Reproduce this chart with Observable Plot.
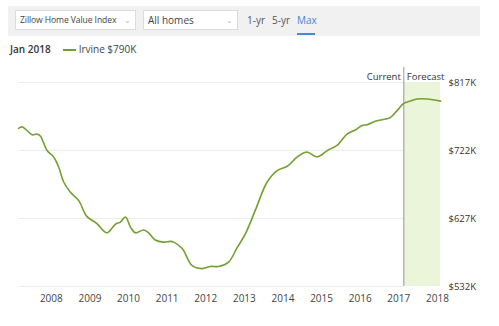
<!DOCTYPE html>
<html>
<head>
<meta charset="utf-8">
<script src="https://cdn.jsdelivr.net/npm/d3@7"></script>
<script src="https://cdn.jsdelivr.net/npm/@observablehq/plot@0.6"></script>
<style>
  html, body { margin: 0; padding: 0; background: #fff; }
  body { width: 499px; height: 326px; position: relative; overflow: hidden; font-family: "Open Sans", sans-serif; color: #444; }
  .bar { position: absolute; left: 8px; top: 6px; width: 472px; height: 30px; background: #f1f1f1; }
  .dd { position: absolute; top: 10px; height: 20px; background: #fff; border: 1px solid #dcdcdc; font-size: 10px; line-height: 19px; color: #444; box-sizing: border-box; }
  .dd .txt { position: absolute; left: 4px; top: 0; white-space: nowrap; }
  .dd .chev { position: absolute; right: 4px; top: -1px; color: #bbb; font-size: 8px; }
  .tab { position: absolute; top: 13px; font-size: 10px; color: #555; }
  .tab.on { color: #4a86d8; }
  .uline { position: absolute; left: 297px; top: 33px; width: 18px; height: 2px; background: #4a86d8; }
  .legend { position: absolute; top: 42px; left: 10px; font-size: 10px; line-height: 14px; white-space: nowrap; }
  .legend b { font-weight: 600; color: #333; }
  .legend .sw { display: inline-block; width: 13px; height: 2px; background: #72a030; vertical-align: middle; margin: 0 3px 0 12px; }
  #chart { position: absolute; left: 0; top: 60px; }
</style>
</head>
<body>
<div class="bar"></div>
<div class="dd" style="left:15px;width:121px;"><span class="txt" style="font-size:8.6px;letter-spacing:-0.1px;">Zillow Home Value Index</span><span class="chev">&#8964;</span></div>
<div class="dd" style="left:143px;width:95px;"><span class="txt">All homes</span><span class="chev">&#8964;</span></div>
<div class="tab" style="left:247px;">1-yr</div>
<div class="tab" style="left:272px;">5-yr</div>
<div class="tab on" style="left:297px;">Max</div>
<div class="uline"></div>
<div class="legend"><b>Jan 2018</b><span class="sw"></span>Irvine $790K</div>
<div id="chart"></div>
<script>
// Decimal-year dates and home values (thousands of dollars)
const years = [2007.15, 2007.24, 2007.33, 2007.50, 2007.63, 2007.72, 2007.89, 2008.06, 2008.19, 2008.32,
  2008.49, 2008.71, 2008.92, 2009.18, 2009.44, 2009.66, 2009.79, 2009.92, 2010.05, 2010.18,
  2010.39, 2010.52, 2010.69, 2010.91, 2011.08, 2011.17, 2011.39, 2011.65, 2011.90, 2012.12,
  2012.33, 2012.59, 2012.81, 2013.03, 2013.28, 2013.59, 2013.85, 2014.11, 2014.37, 2014.62,
  2014.88, 2015.18, 2015.40, 2015.66, 2015.88, 2016.05, 2016.18, 2016.39, 2016.57, 2016.78,
  2016.96, 2017.13, 2017.30, 2017.47, 2017.73, 2018.08];
const values = [753, 755, 752, 744, 745, 742, 722, 713, 699, 678,
  664, 652, 630, 620, 607, 619, 622, 629, 615, 607,
  611, 607, 597, 594, 595, 594, 585, 561, 557, 560,
  560, 566, 586, 606, 638, 678, 694, 700, 713, 720,
  713, 723, 729, 745, 751, 757, 758, 763, 765, 768,
  778, 788, 791, 794, 794, 791];
const yearTicks = [2008, 2009, 2010, 2011, 2012, 2013, 2014, 2015, 2016, 2017, 2018];
const valueTicks = [532, 627, 722, 817];
const forecastStart = [2017.13];
const forecastEnd = [2018.08];
const phaseLabels = ["Current", "Forecast"];

const data = years.map((x, i) => ({x, v: values[i]}));
const x0 = years[0];
const fs = forecastStart[0];
const fe = forecastEnd[0];

const chart = Plot.plot({
  width: 499,
  height: 266,
  marginLeft: 18,
  marginRight: 59,
  marginTop: 7,
  marginBottom: 40,
  style: {fontFamily: "'Open Sans', sans-serif", fontSize: "10px", color: "#444", background: "transparent"},
  x: {domain: [x0, fe], ticks: yearTicks, tickFormat: d => String(d), tickSize: 0, tickPadding: 8, label: null},
  y: {domain: [532, 817], range: [226, 22], ticks: valueTicks, tickFormat: d => `$${d}K`, tickSize: 0, label: null, axis: null},
  marks: [
    Plot.rectY([{a: fs, b: fe}], {x1: "a", x2: "b", y1: valueTicks[0], y2: valueTicks[valueTicks.length - 1], fill: "#eaf5d9"}),
    Plot.ruleY(valueTicks, {x1: x0, x2: fs, stroke: "#ececec", strokeWidth: 1}),
    Plot.ruleX(forecastStart, {stroke: "#9a9a9a", strokeWidth: 1}),
    Plot.text([phaseLabels[0]], {x: fs, frameAnchor: "top", dy: 6, dx: -3, textAnchor: "end", fill: "#333", fontSize: 9.5}),
    Plot.text([phaseLabels[1]], {x: fs, frameAnchor: "top", dy: 6, dx: 3, textAnchor: "start", fill: "#333", fontSize: 9.5}),
    Plot.axisY(valueTicks, {anchor: "right", tickSize: 0, tickPadding: 8, tickFormat: d => `$${d}K`, fontSize: 9.5, fill: "#333", label: null}),
    Plot.line(data, {x: "x", y: "v", stroke: "#72a030", strokeWidth: 1.6, curve: "catmull-rom"})
  ]
});
document.getElementById("chart").appendChild(chart);
</script>
</body>
</html>
